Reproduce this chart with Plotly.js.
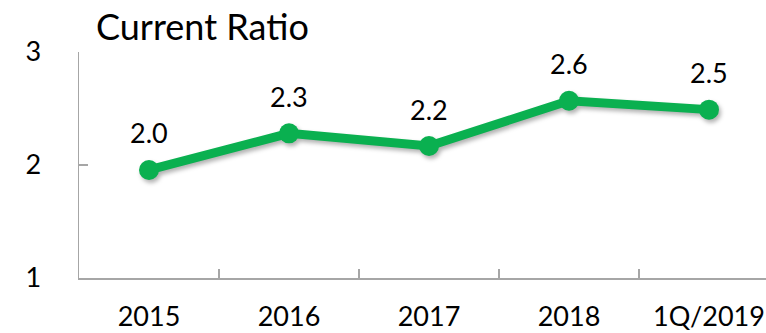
<!DOCTYPE html>
<html>
<head>
<meta charset="utf-8">
<script src="https://cdn.plot.ly/plotly-3.0.1.min.js"></script>
<style>
  html, body { margin: 0; padding: 0; overflow: hidden; background: #fff; }
  #chart { width: 780px; height: 333px; }
  .scatterlayer .trace { filter: drop-shadow(2px 3px 2px rgba(0,0,0,0.3)); }
</style>
</head>
<body>
<div id="chart"></div>
<script>
// Current ratio by period
const periods = ['2015', '2016', '2017', '2018', '1Q/2019'];
const currentRatio = [1.956, 2.28, 2.168, 2.569, 2.49];
const yTicks = [1, 2, 3];

const FONT = 'Lato, "Open Sans", sans-serif';
const GREEN = '#0AB050';
const AXIS = '#A6A6A6';

const trace = {
  x: periods,
  y: currentRatio,
  type: 'scatter',
  mode: 'lines+markers',
  line: { color: GREEN, width: 9 },
  marker: { color: GREEN, size: 20 },
  cliponaxis: false,
  hoverinfo: 'skip'
};

// Value labels sit above each point, formatted from the same values.
// Category positions are given by index so numeric-looking names stay categories.
const valueLabels = periods.map((p, i) => ({
  x: i,
  y: currentRatio[i],
  xref: 'x', yref: 'y',
  text: currentRatio[i].toFixed(1),
  showarrow: false,
  yanchor: 'middle',
  yshift: 37,
  font: { family: FONT, size: 27, color: '#000' }
}));

const layout = {
  width: 780,
  height: 333,
  margin: { l: 79, r: 1, t: 52, b: 55 },
  paper_bgcolor: '#fff',
  plot_bgcolor: '#fff',
  showlegend: false,
  font: { family: FONT, color: '#000' },
  title: {
    text: 'Current Ratio',
    font: { family: FONT, size: 36, color: '#000' },
    xref: 'container', yref: 'container',
    x: 96 / 780, xanchor: 'left',
    y: 1 - 27 / 333, yanchor: 'middle'
  },
  annotations: valueLabels,
  xaxis: {
    type: 'category',
    range: [-0.5, periods.length - 0.5],
    showline: true, linecolor: AXIS, linewidth: 1.5,
    ticks: 'inside', tickson: 'boundaries', ticklen: 9, tickcolor: AXIS, tickwidth: 1.5,
    showgrid: false, zeroline: false,
    tickfont: { family: FONT, size: 27, color: '#000' },
    ticklabelstandoff: 14,
    fixedrange: true
  },
  yaxis: {
    range: [1, 3],
    tickvals: yTicks,
    ticktext: yTicks.map(String),
    showline: true, linecolor: AXIS, linewidth: 1.5,
    ticks: 'inside', ticklen: 9, tickcolor: AXIS, tickwidth: 1.5,
    showgrid: false, zeroline: false,
    tickfont: { family: FONT, size: 27, color: '#000' },
    ticklabelstandoff: 31,
    fixedrange: true
  }
};

Plotly.newPlot('chart', [trace], layout, { displayModeBar: false, staticPlot: true });
</script>
</body>
</html>
